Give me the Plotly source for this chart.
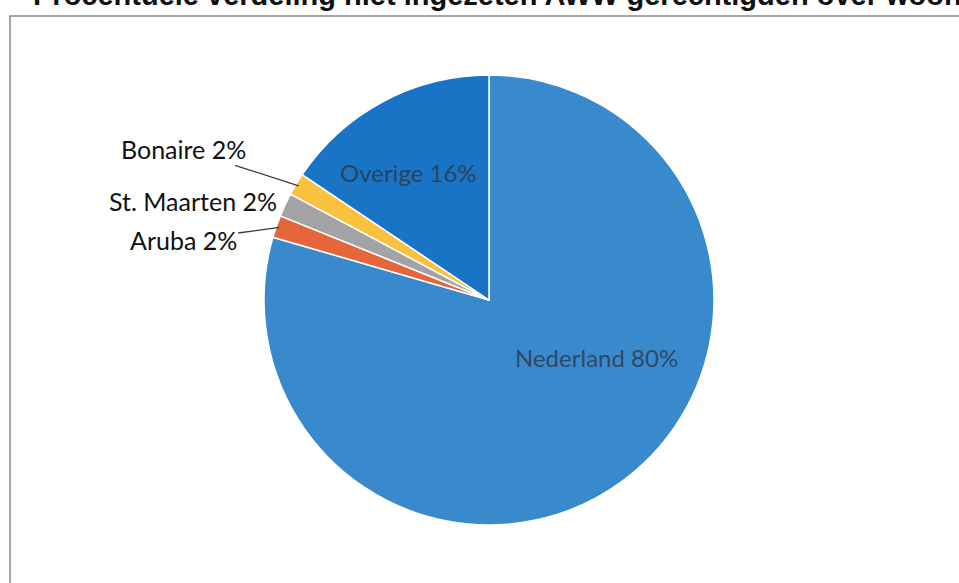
import math
import plotly.graph_objects as go

labels = ["Nederland", "Aruba", "St. Maarten", "Bonaire", "Overige"]
values = [79.5, 1.6, 1.7, 1.6, 15.6]
colors = ["#388acc", "#e5663a", "#a3a3a6", "#f9c13e", "#1a74c6"]
title_text = "Procentuele verdeling niet ingezeten AWW gerechtigden over woonland"

W, H = 959, 583
cx, cy, R = 489, 300, 225

# label placement (style): inside labels by (angle offset from mid, radius fraction);
# outside labels by text offset (px) from slice edge midpoint
label_style = {
    "Nederland": dict(kind="in", dang=-25, rf=0.54),
    "Overige": dict(kind="in", dang=-4, rf=0.67),
    "Aruba": dict(kind="out", ax=-96, ay=13, arrow=True),
    "St. Maarten": dict(kind="out", ax=-95, ay=-5, arrow=False),
    "Bonaire": dict(kind="out", ax=-115, ay=-37, arrow=True),
}

fig = go.Figure(go.Pie(
    labels=labels,
    values=values,
    sort=False,
    direction="clockwise",
    rotation=0,
    marker=dict(colors=colors, line=dict(color="white", width=1.5)),
    textinfo="none",
    showlegend=False,
    hoverinfo="skip",
    domain=dict(x=[(cx - R) / W, (cx + R) / W], y=[(H - cy - R) / H, (H - cy + R) / H]),
))

total = sum(values)
cum = 0.0
for lab, v in zip(labels, values):
    mid = (cum + v / 2) / total * 360.0
    cum += v
    pct = round(v / total * 100)
    txt = f"{lab} {pct}%"
    st = label_style[lab]
    if st["kind"] == "in":
        a = math.radians(mid + st["dang"])
        px = cx + st["rf"] * R * math.sin(a)
        py = cy - st["rf"] * R * math.cos(a)
        fig.add_annotation(text=txt, x=px / W, y=(H - py) / H, xref="paper", yref="paper",
                           showarrow=False, xanchor="center", yanchor="middle",
                           font=dict(family="Lato", size=24, color="rgba(45,50,62,0.75)"))
    else:
        a = math.radians(mid)
        px = cx + (R - 3) * math.sin(a)
        py = cy - (R - 3) * math.cos(a)
        fig.add_annotation(text=txt, x=px / W, y=(H - py) / H, xref="paper", yref="paper",
                           showarrow=True, ax=st["ax"], ay=st["ay"], axref="pixel", ayref="pixel",
                           arrowhead=0, arrowwidth=1.3,
                           arrowcolor="#3a3a3a" if st["arrow"] else "rgba(0,0,0,0)",
                           xanchor="center", yanchor="middle",
                           font=dict(family="Lato", size=25, color="#111111"))

fig.add_shape(type="rect", xref="paper", yref="paper",
              x0=10 / W, x1=1.02, y0=-0.02, y1=(H - 16) / H,
              line=dict(color="#8a8a8a", width=1.5), fillcolor="rgba(0,0,0,0)")

fig.add_annotation(text="<b>-</b>", xref="paper", yref="paper",
                   x=1 / W, y=(H + 5) / H, xanchor="left", yanchor="middle",
                   showarrow=False, font=dict(family="Liberation Sans", size=29, color="#111111"))
fig.add_annotation(text="<b>" + title_text + "</b>", xref="paper", yref="paper",
                   x=31 / W, y=(H + 5) / H, xanchor="left", yanchor="middle",
                   showarrow=False, font=dict(family="Liberation Sans", size=29, color="#111111"))

fig.update_layout(width=W, height=H, margin=dict(l=0, r=0, t=0, b=0),
                  paper_bgcolor="white", plot_bgcolor="white")

fig.write_html("out.html", config={"displayModeBar": False},
               post_script="document.body.style.margin='0';document.body.style.overflow='hidden';")
